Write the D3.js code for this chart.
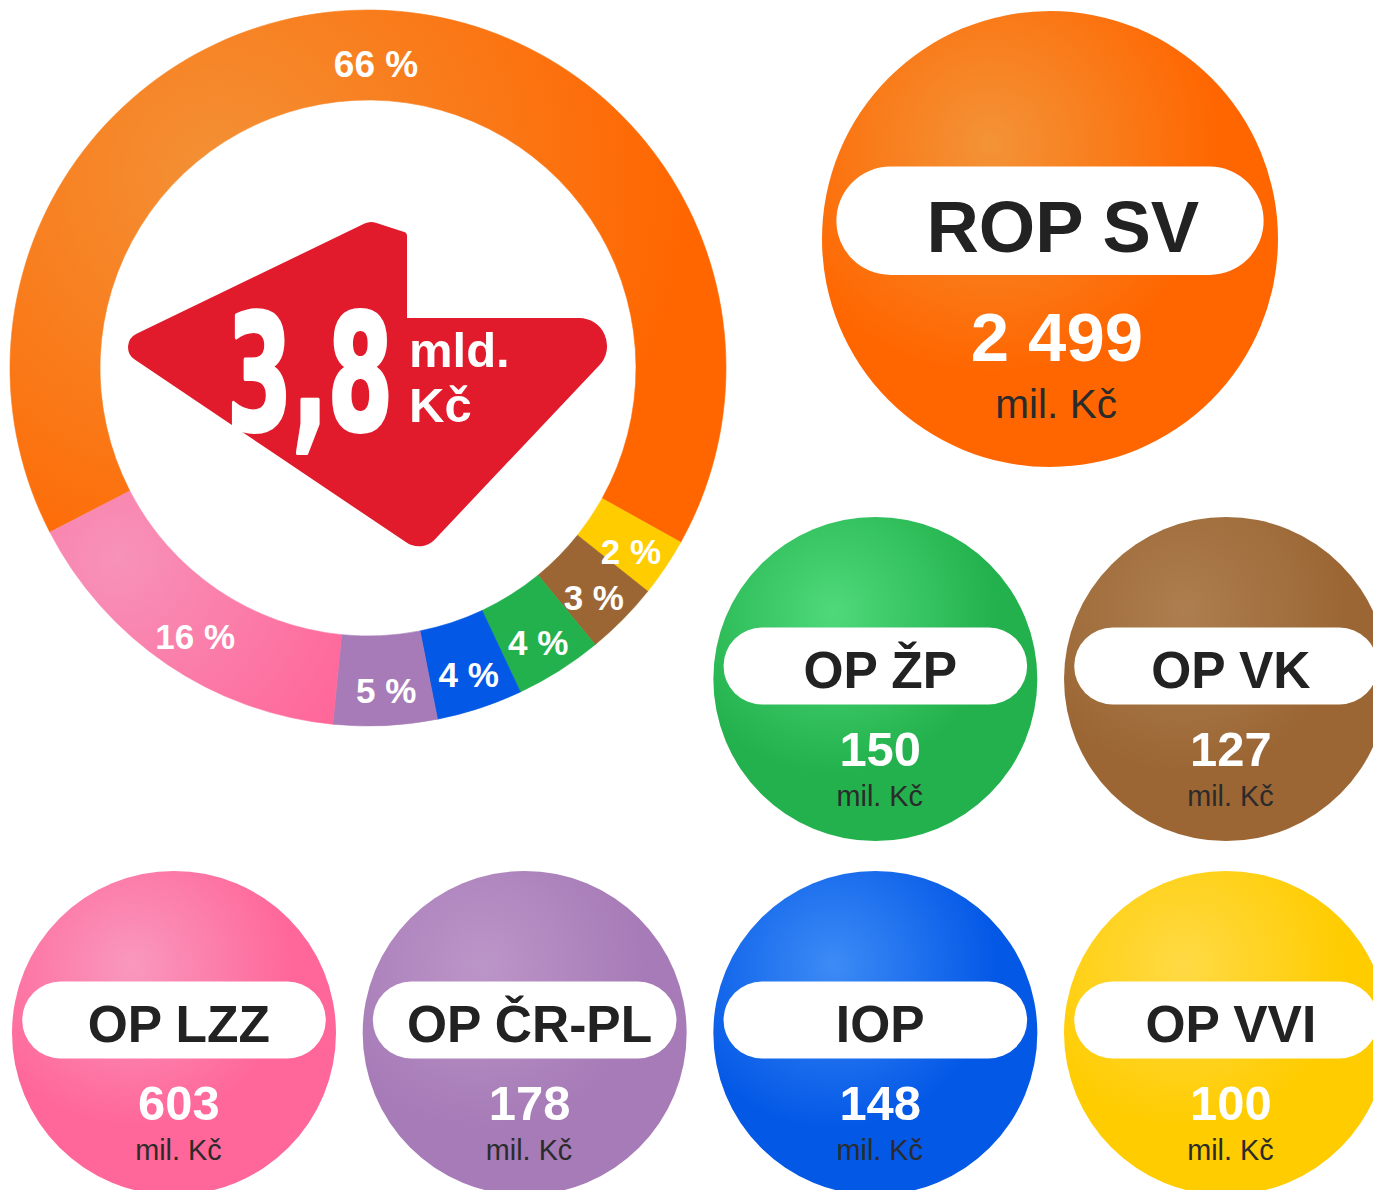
<!DOCTYPE html>
<html>
<head>
<meta charset="utf-8">
<script src="https://cdn.jsdelivr.net/npm/d3@7"></script>
<style>
  body { margin: 0; background: #fff; }
  svg { display: block; }
  text { font-family: "Liberation Sans", Arial, sans-serif; }
</style>
</head>
<body>
<div id="wrapper"></div>
<script>
// 1. Data (order = clockwise around the ring, starting with ROP SV)
const programmes = ["ROP SV", "OP VVI", "OP VK", "OP ŽP", "IOP", "OP ČR-PL", "OP LZZ"]
const amounts = [2499, 100, 127, 150, 148, 178, 603]          // mil. Kč
const shareLabels = [66, 2, 3, 4, 4, 5, 16]                  // % as printed
const unitLabel = "mil. Kč"

const baseColors = ["#ff6600", "#ffcc00", "#9b6634", "#22b14c", "#0358e6", "#a67bb7", "#ff6699"]
const lightColors = ["#f39337", "#ffda45", "#ad7e4f", "#4fd97b", "#3d8bf6", "#bc95c8", "#f998bd"]

const dataset = programmes.map((name, i) => ({
    name, amount: amounts[i], share: shareLabels[i],
    color: baseColors[i], light: lightColors[i]
}))

// 2. Dimensions
const width = 1373, height = 1190
const donut = { cx: 368, cy: 368, outer: 358, inner: 268 }
const bigBubble = { cx: 1050, cy: 239, r: 228 }
const smallR = 162
// grid cells for the small bubbles: [column, row]
const cells = { "OP ŽP": [2, 0], "OP VK": [3, 0], "OP LZZ": [0, 1], "OP ČR-PL": [1, 1], "IOP": [2, 1], "OP VVI": [3, 1] }
const colScale = d3.scaleLinear().domain([0, 3]).range([174, 1226])
const rowScale = d3.scaleLinear().domain([0, 1]).range([679, 1033])

const locale = d3.formatLocale({ decimal: ",", thousands: " ", grouping: [3], currency: ["", ""] })
const formatAmount = locale.format(",d")
const formatTotal = locale.format(".1f")

// 3. Canvas
const svg = d3.select("#wrapper").append("svg")
    .attr("width", width)
    .attr("height", height)
const defs = svg.append("defs")

// bubble gradients
dataset.forEach((d, i) => {
    const g = defs.append("radialGradient")
        .attr("id", `bub${i}`)
        .attr("cx", 0.37).attr("cy", 0.29).attr("r", 0.7)
        .attr("fx", 0.37).attr("fy", 0.29)
    g.append("stop").attr("offset", 0).attr("stop-color", d.light)
    g.append("stop").attr("offset", 0.72).attr("stop-color", d.color)
})
// ring gradients (orange and pink have a soft highlight)
const ringGrad = (id, cx, cy, r, c0, c1) => {
    const g = defs.append("radialGradient").attr("id", id)
        .attr("gradientUnits", "userSpaceOnUse")
        .attr("cx", cx).attr("cy", cy).attr("r", r)
    g.append("stop").attr("offset", 0).attr("stop-color", c0)
    g.append("stop").attr("offset", 1).attr("stop-color", c1)
}
ringGrad("ring0", -150, -190, 470, "#f39136", "#ff6600")
ringGrad("ring6", -250, 190, 270, "#f792b8", "#ff6699")

// 4. Donut
const startAngle = -117.3 * Math.PI / 180
const pie = d3.pie().sort(null).value(d => d.amount)
    .startAngle(startAngle).endAngle(startAngle + 2 * Math.PI)
const arc = d3.arc().innerRadius(donut.inner).outerRadius(donut.outer)

const ring = svg.append("g")
    .attr("transform", `translate(${donut.cx},${donut.cy})`)

const arcs = pie(dataset)
ring.selectAll(".slice")
    .data(arcs)
    .enter().append("path")
    .attr("class", "slice")
    .attr("d", arc)
    .attr("fill", (d, i) => (i === 0 || i === 6) ? `url(#ring${i})` : d.data.color)
    .attr("stroke", (d, i) => (i === 0 || i === 6) ? `url(#ring${i})` : d.data.color)
    .attr("stroke-width", 0.6)

ring.selectAll(".share")
    .data(arcs)
    .enter().append("text")
    .attr("class", "share")
    .attr("x", d => arc.centroid(d)[0] + 3)
    .attr("y", d => arc.centroid(d)[1] + 22)
    .attr("text-anchor", "middle")
    .attr("fill", "#fff")
    .attr("font-weight", "bold")
    .attr("font-size", (d, i) => i === 0 ? 37 : 35)
    .text(d => `${d.data.share} %`)

// centre arrow
const arrowPts = [[-255, -23], [2, -147], [39, -135], [39, -50], [276, -50], [54, 185]]
const arrowRadii = [15, 15, 4, 0, 28, 22]
function roundedPolygon(pts, radii) {
    const p = d3.path()
    const n = pts.length
    const mid = (a, b) => [(a[0] + b[0]) / 2, (a[1] + b[1]) / 2]
    const s = mid(pts[n - 1], pts[0])
    p.moveTo(s[0], s[1])
    pts.forEach((c, i) => {
        const m = mid(c, pts[(i + 1) % n])
        p.arcTo(c[0], c[1], m[0], m[1], radii[i])
    })
    p.closePath()
    return p.toString()
}
ring.append("path")
    .attr("d", roundedPolygon(arrowPts, arrowRadii))
    .attr("fill", "#e11a2c")

// big total, squeezed horizontally to a condensed look
const total = d3.sum(amounts)
const totalText = ring.append("text")
    .attr("fill", "#fff")
    .attr("stroke", "#fff")
    .attr("stroke-width", 4)
    .attr("stroke-linejoin", "round")
    .attr("font-weight", "bold")
    .attr("font-size", 160)
    .style("font-family", '"Liberation Sans Narrow", "DejaVu Sans Condensed", "Liberation Sans", sans-serif')
    .text(formatTotal(total / 1000))
const naturalW = totalText.node().getComputedTextLength()
totalText.attr("transform", `translate(-141,62) scale(${166 / naturalW},1)`)

ring.append("text")
    .attr("x", 41).attr("y", -1)
    .attr("fill", "#fff").attr("font-weight", "bold").attr("font-size", 49)
    .text("mld.")
ring.append("text")
    .attr("x", 41).attr("y", 54)
    .attr("fill", "#fff").attr("font-weight", "bold").attr("font-size", 49)
    .text("Kč")

// 5. Bubbles
const bubbles = dataset.map((d, i) => {
    if (i === 0) return { ...d, idx: i, cx: bigBubble.cx, cy: bigBubble.cy, r: bigBubble.r }
    const [c, r] = cells[d.name]
    return { ...d, idx: i, cx: colScale(c), cy: rowScale(r), r: smallR }
})

const bubble = svg.selectAll(".bubble")
    .data(bubbles)
    .enter().append("g")
    .attr("class", "bubble")
    .attr("transform", d => `translate(${d.cx},${d.cy})`)

bubble.append("circle")
    .attr("r", d => d.r)
    .attr("fill", d => `url(#bub${d.idx})`)

bubble.append("rect")
    .attr("x", d => -0.937 * d.r)
    .attr("y", d => -0.08 * d.r - 0.2375 * d.r)
    .attr("width", d => 1.874 * d.r)
    .attr("height", d => 0.475 * d.r)
    .attr("rx", d => 0.2375 * d.r)
    .attr("fill", "#fff")

bubble.append("text")
    .attr("x", d => 0.03 * d.r + (d.idx === 0 ? 6 : 0))
    .attr("y", d => 0.056 * d.r)
    .attr("text-anchor", "middle")
    .attr("font-weight", "bold")
    .attr("font-size", d => 0.318 * d.r)
    .attr("fill", "#222")
    .text(d => d.name)

bubble.append("text")
    .attr("x", d => 0.03 * d.r)
    .attr("y", d => 0.537 * d.r)
    .attr("text-anchor", "middle")
    .attr("font-weight", "bold")
    .attr("font-size", d => 0.302 * d.r)
    .attr("fill", "#fff")
    .text(d => formatAmount(d.amount))

bubble.append("text")
    .attr("x", d => 0.027 * d.r)
    .attr("y", d => 0.785 * d.r)
    .attr("text-anchor", "middle")
    .attr("font-size", d => 0.178 * d.r)
    .attr("fill", "#2b2b2b")
    .text(unitLabel)
</script>
</body>
</html>
